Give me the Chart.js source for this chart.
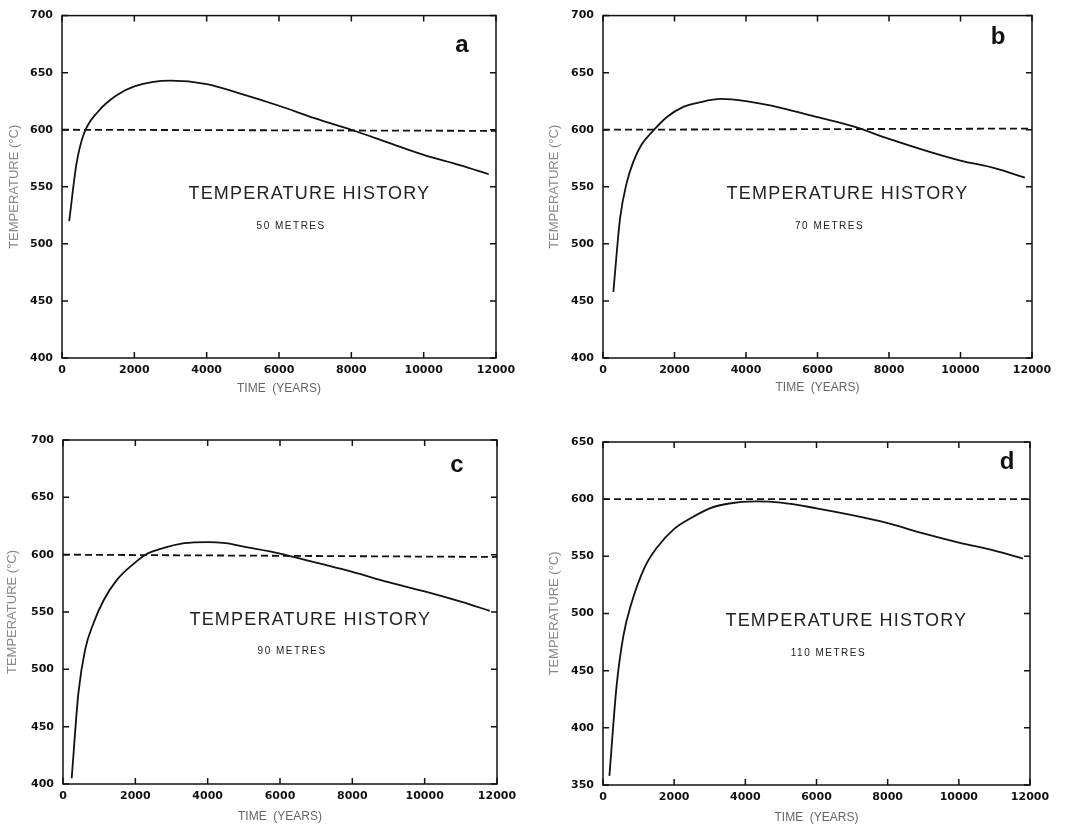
<!DOCTYPE html>
<html>
<head>
<meta charset="utf-8">
<script src="https://cdn.jsdelivr.net/npm/chart.js@4.4.0/dist/chart.umd.min.js"></script>
<style>
  html, body { margin: 0; padding: 0; background: #fff; }
  #page { position: relative; width: 1067px; height: 827px; }
  .panel { position: absolute; }
</style>
</head>
<body>
<div id="page">
  <div class="panel" style="left:0;top:0;width:530px;height:405px"><canvas id="chartA"></canvas></div>
  <div class="panel" style="left:530px;top:0;width:537px;height:405px"><canvas id="chartB"></canvas></div>
  <div class="panel" style="left:0;top:410px;width:530px;height:417px"><canvas id="chartC"></canvas></div>
  <div class="panel" style="left:530px;top:410px;width:537px;height:417px"><canvas id="chartD"></canvas></div>
</div>
<script>
// data
const limitYears = [0, 12000];

const yearsA = [200, 400, 600, 1000, 1500, 2000, 3000, 4000, 5000, 6000, 7000, 8000, 9000, 10000, 11000, 11800];
const tempA  = [520, 570, 596, 616, 630, 638, 643, 640, 631, 621, 610, 600, 589, 578, 569, 561];
const limitA = [600, 599];

const yearsB = [290, 480, 660, 850, 1080, 1400, 1780, 2250, 2700, 3300, 4000, 5000, 6000, 7000, 8000, 9000, 10000, 11000, 11800];
const tempB  = [458, 523, 553, 572, 587, 599, 611, 620, 624, 627, 625, 619, 611, 603, 592, 582, 573, 566, 558];
const limitB = [600, 601];

const yearsC = [240, 425, 610, 840, 1120, 1490, 1950, 2280, 2700, 3350, 4000, 4500, 5000, 6000, 7000, 8000, 9000, 10000, 11000, 11800];
const tempC  = [405, 479, 517, 540, 560, 578, 592, 600, 605, 610, 611, 610, 607, 601, 593, 585, 576, 568, 559, 551];
const limitC = [600, 598];

const yearsD = [180, 380, 570, 800, 1180, 1500, 2000, 2500, 3000, 3500, 4300, 5000, 6000, 7000, 8000, 9000, 10000, 11000, 11800];
const tempD  = [358, 436, 480, 509, 541, 557, 574, 584, 592, 596, 598, 597, 592, 586, 579, 570, 562, 555, 548];
const limitD = [600, 600];

const letters = ['a', 'b', 'c', 'd'];
const depths = ['50 METRES', '70 METRES', '90 METRES', '110 METRES'];

// frame with inward ticks + the in-plot texts
const frame = {
  id: 'frame',
  afterDatasetsDraw(chart, args, o) {
    const { ctx, chartArea: a } = chart;
    const x = chart.scales.x, y = chart.scales.y;
    ctx.save();
    ctx.strokeStyle = '#111';
    ctx.lineWidth = 1.5;
    ctx.strokeRect(a.left, a.top, a.right - a.left, a.bottom - a.top);
    ctx.beginPath();
    x.ticks.forEach(t => {
      const px = x.getPixelForValue(t.value);
      ctx.moveTo(px, a.top); ctx.lineTo(px, a.top + 6);
      ctx.moveTo(px, a.bottom); ctx.lineTo(px, a.bottom - 6);
    });
    y.ticks.forEach(t => {
      const py = y.getPixelForValue(t.value);
      ctx.moveTo(a.left, py); ctx.lineTo(a.left + 6, py);
      ctx.moveTo(a.right, py); ctx.lineTo(a.right - 6, py);
    });
    ctx.stroke();

    const w = a.right - a.left, h = a.bottom - a.top;
    ctx.fillStyle = '#111';
    ctx.textAlign = 'center';
    ctx.textBaseline = 'middle';
    ctx.font = 'bold 24px "Liberation Sans"';
    ctx.fillText(o.letter, a.right - o.letterDx, a.top + o.letterDy);
    ctx.fillStyle = '#222';
    ctx.letterSpacing = '1.2px';
    ctx.font = '18px "Liberation Sans"';
    ctx.fillText('TEMPERATURE HISTORY', a.left + w * 0.57, a.top + h * 0.522);
    ctx.letterSpacing = '1.5px';
    ctx.font = '10px "Liberation Sans"';
    ctx.fillText(o.depth, a.left + w * 0.528, a.top + h * 0.615);
    ctx.restore();
  }
};

function makeChart(id, years, temps, limit, p) {
  const ctx = document.getElementById(id).getContext('2d');
  return new Chart(ctx, {
    type: 'line',
    data: {
      datasets: [{
        data: years.map((v, i) => ({ x: v, y: temps[i] })),
        borderColor: '#111',
        borderWidth: 1.8,
        pointRadius: 0,
        cubicInterpolationMode: 'monotone'
      }, {
        data: limitYears.map((v, i) => ({ x: v, y: limit[i] })),
        borderColor: '#111',
        borderWidth: 1.8,
        borderDash: [7, 4],
        pointRadius: 0
      }]
    },
    options: {
      responsive: true,
      maintainAspectRatio: false,
      animation: false,
      layout: { padding: { left: 0, top: p.top, right: p.right, bottom: 0 } },
      plugins: {
        legend: { display: false },
        tooltip: { enabled: false },
        frame: { letter: p.letter, depth: p.depth, letterDx: p.letterDx, letterDy: p.letterDy }
      },
      scales: {
        x: {
          type: 'linear',
          min: 0, max: 12000,
          grid: { display: false, drawTicks: false },
          border: { display: false },
          ticks: {
            stepSize: 2000,
            padding: 6,
            color: '#111',
            font: { family: 'DejaVu Sans', size: 11, weight: 'bold' },
            callback: v => String(v)
          },
          title: {
            display: true,
            text: 'TIME  (YEARS)',
            color: '#666',
            font: { family: 'Liberation Sans', size: 12 },
            padding: { top: 0, bottom: p.xTitlePad }
          },
          afterFit: s => { s.height = p.xH; }
        },
        y: {
          min: p.yMin, max: p.yMax,
          grid: { display: false, drawTicks: false },
          border: { display: false },
          ticks: {
            stepSize: 50,
            padding: 9,
            color: '#111',
            font: { family: 'DejaVu Sans', size: 11, weight: 'bold' }
          },
          title: {
            display: true,
            text: 'TEMPERATURE (°C)',
            color: '#888',
            font: { family: 'Liberation Sans', size: 13 },
            padding: { top: p.yTitlePad, bottom: 0 }
          },
          afterFit: s => { s.width = p.yW; }
        }
      }
    },
    plugins: [frame]
  });
}

makeChart('chartA', yearsA, tempA, limitA, {
  top: 13, right: 34, yW: 62, xH: 47, xTitlePad: 9, yTitlePad: 7,
  yMin: 400, yMax: 700, letter: letters[0], depth: depths[0], letterDx: 34, letterDy: 30
});
makeChart('chartB', yearsB, tempB, limitB, {
  top: 13, right: 35, yW: 73, xH: 47, xTitlePad: 10, yTitlePad: 17,
  yMin: 400, yMax: 700, letter: letters[1], depth: depths[1], letterDx: 34, letterDy: 22
});
makeChart('chartC', yearsC, tempC, limitC, {
  top: 30, right: 33, yW: 63, xH: 43, xTitlePad: 3, yTitlePad: 5,
  yMin: 400, yMax: 700, letter: letters[2], depth: depths[2], letterDx: 40, letterDy: 25
});
makeChart('chartD', yearsD, tempD, limitD, {
  top: 32, right: 37, yW: 73, xH: 42, xTitlePad: 2, yTitlePad: 17,
  yMin: 350, yMax: 650, letter: letters[3], depth: depths[3], letterDx: 23, letterDy: 20
});
</script>
</body>
</html>
